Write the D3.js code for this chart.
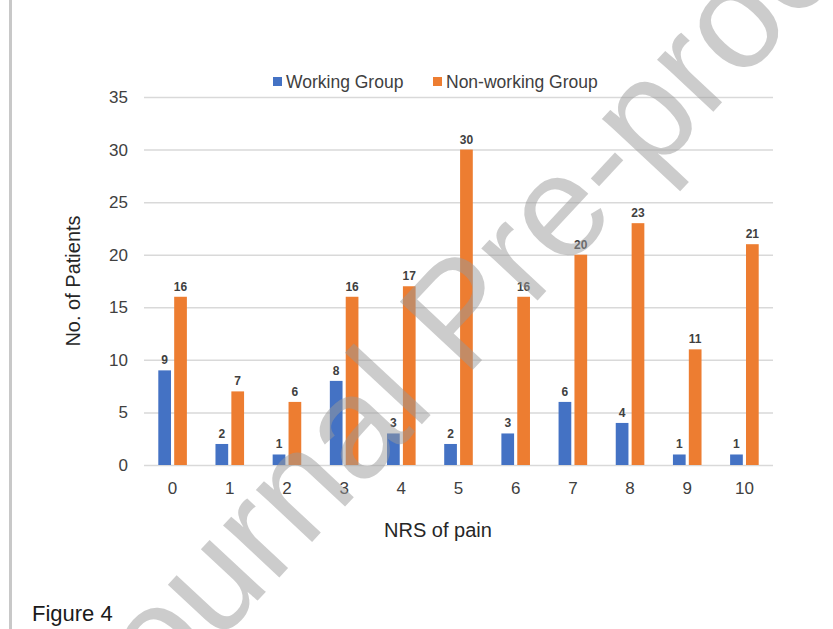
<!DOCTYPE html>
<html>
<head>
<meta charset="utf-8">
<script src="https://cdn.jsdelivr.net/npm/d3@7"></script>
<style>
  html, body { margin: 0; padding: 0; background: #fff; }
  svg { display: block; font-family: "Liberation Sans", Arial, sans-serif; }
</style>
</head>
<body>
<svg id="chart" width="833" height="629"></svg>
<script>
const categories = ["0","1","2","3","4","5","6","7","8","9","10"];
const seriesNames = ["Working Group", "Non-working Group"];
const working = [9, 2, 1, 8, 3, 2, 3, 6, 4, 1, 1];
const nonWorking = [16, 7, 6, 16, 17, 30, 16, 20, 23, 11, 21];
const yTicks = [0, 5, 10, 15, 20, 25, 30, 35];
const colors = ["#4472C4", "#ED7D31"];

(function () {
const svg = d3.select("#chart");
const plotL = 144, plotR = 773, plotT = 97, plotB = 465;

const x0 = d3.scaleBand().domain(categories).range([plotL, plotR])
  .paddingInner(0.5).paddingOuter(0.25);
const x1 = d3.scaleBand().domain([0, 1]).range([0, x0.bandwidth()]).paddingInner(0.2);
const y = d3.scaleLinear().domain([0, 35]).range([plotB, plotT]);

// left border line
svg.append("line").attr("x1", 10.5).attr("x2", 10.5).attr("y1", 0).attr("y2", 629)
  .attr("stroke", "#c8c8c8").attr("stroke-width", 3);

// gridlines
const yAxis = d3.axisLeft(y).tickValues(yTicks).tickSize(-(plotR - plotL)).tickPadding(16);
const gy = svg.append("g").attr("transform", `translate(${plotL},0)`).call(yAxis);
gy.select(".domain").remove();
gy.selectAll(".tick line").attr("stroke", "#d9d9d9").attr("stroke-width", 1.5);
gy.selectAll(".tick text").attr("fill", "#404040").style("font-size", "17px")
  .style("font-family", "'Liberation Sans', Arial, sans-serif");

// bars
const data = categories.map((c, i) => ({ c, vals: [working[i], nonWorking[i]] }));
const groups = svg.append("g").selectAll("g").data(data).join("g")
  .attr("transform", d => `translate(${x0(d.c)},0)`);
groups.selectAll("rect").data(d => d.vals.map((v, k) => ({ v, k }))).join("rect")
  .attr("x", d => x1(d.k)).attr("width", x1.bandwidth())
  .attr("y", d => y(d.v)).attr("height", d => y(0) - y(d.v))
  .attr("fill", d => colors[d.k]);
groups.selectAll("text").data(d => d.vals.map((v, k) => ({ v, k }))).join("text")
  .attr("x", d => x1(d.k) + x1.bandwidth() / 2).attr("y", d => y(d.v) - 6)
  .attr("text-anchor", "middle").attr("fill", "#404040")
  .style("font-size", "12px").style("font-weight", "bold")
  .text(d => d.v);

// x axis
const xAxis = d3.axisBottom(x0).tickSize(0).tickPadding(17);
const gx = svg.append("g").attr("transform", `translate(0,${plotB})`).call(xAxis);
gx.select(".domain").remove();
gx.selectAll(".tick text").attr("fill", "#404040").style("font-size", "17px")
  .style("font-family", "'Liberation Sans', Arial, sans-serif");

// axis titles
svg.append("text").attr("x", 438).attr("y", 537).attr("text-anchor", "middle")
  .attr("fill", "#262626").style("font-size", "20px").text("NRS of pain");
svg.append("text").attr("transform", "translate(80,281) rotate(-90)").attr("text-anchor", "middle")
  .attr("fill", "#262626").style("font-size", "20px").text("No. of Patients");

// legend
const legendX = [273, 433];
const lg = svg.append("g");
seriesNames.forEach((n, i) => {
  lg.append("rect").attr("x", legendX[i]).attr("y", 77).attr("width", 9).attr("height", 9)
    .attr("fill", colors[i]);
  lg.append("text").attr("x", legendX[i] + 13).attr("y", 88).attr("fill", "#404040")
    .style("font-size", "17.5px").text(n);
});

// figure caption
svg.append("text").attr("x", 32).attr("y", 621).attr("fill", "#1a1a1a")
  .style("font-size", "22px").text("Figure 4");

// watermark
svg.append("g").attr("transform", "translate(495,346) rotate(-47)")
  .append("text").attr("x", 0).attr("y", 0).attr("text-anchor", "middle")
  .attr("fill", "#999").attr("fill-opacity", 0.5)
  .style("font-size", "145px").text("Journal Pre-proof");
})();
</script>
</body>
</html>
